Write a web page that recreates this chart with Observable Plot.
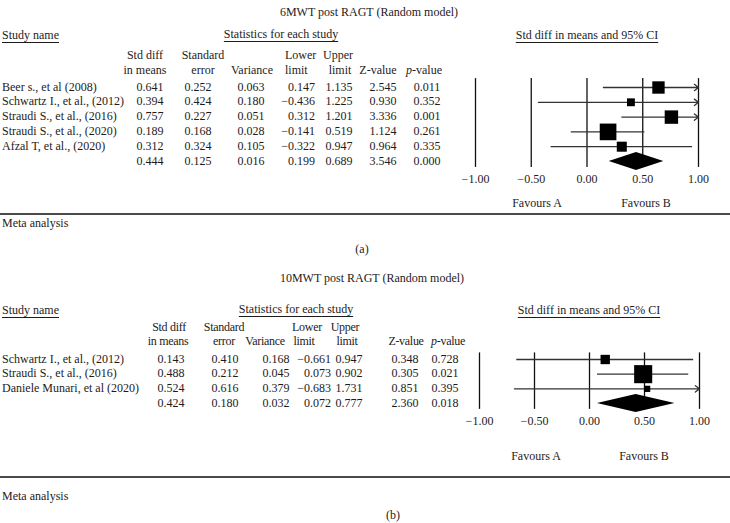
<!DOCTYPE html>
<html><head><meta charset="utf-8">
<script src="https://cdn.jsdelivr.net/npm/d3@7"></script>
<script src="https://cdn.jsdelivr.net/npm/@observablehq/plot@0.6"></script>
<style>
body{margin:0;background:#fff;}
#fig{position:relative;width:730px;height:523px;font-family:"Liberation Serif","Times New Roman",serif;font-size:12px;color:#1e1b1c;overflow:hidden;background:#fff}
.t{position:absolute;white-space:nowrap;line-height:1}
.ul{text-decoration:underline;text-decoration-thickness:1px;text-underline-offset:3px}
.hr{position:absolute;left:0;width:730px;height:2px;background:#4a4a4a}
.pl{position:absolute}
.tight{letter-spacing:-0.3px}
</style></head>
<body><div id="fig"></div>
<script>
// ---------- Data: panel (a) 6MWT ----------
const titleA = "6MWT post RAGT (Random model)";
const studiesA = ["Beer s., et al (2008)", "Schwartz I., et al., (2012)", "Straudi S., et al., (2016)", "Straudi S., et al., (2020)", "Afzal T, et al., (2020)"];
const smdA   = [0.641, 0.394, 0.757, 0.189, 0.312, 0.444];
const seA    = [0.252, 0.424, 0.227, 0.168, 0.324, 0.125];
const varA   = [0.063, 0.180, 0.051, 0.028, 0.105, 0.016];
const lowerA = [0.147, -0.436, 0.312, -0.141, -0.322, 0.199];
const upperA = [1.135, 1.225, 1.201, 0.519, 0.947, 0.689];
const zA     = [2.545, 0.930, 3.336, 1.124, 0.964, 3.546];
const pA     = [0.011, 0.352, 0.001, 0.261, 0.335, 0.000];
const weightA = [19.8, 8.0, 23.3, 35.9, 13.0]; // relative weight (%)

// ---------- Data: panel (b) 10MWT ----------
const titleB = "10MWT post RAGT (Random model)";
const studiesB = ["Schwartz I., et al., (2012)", "Straudi S., et al., (2016)", "Daniele Munari, et al (2020)"];
const smdB   = [0.143, 0.488, 0.524, 0.424];
const seB    = [0.410, 0.212, 0.616, 0.180];
const varB   = [0.168, 0.045, 0.379, 0.032];
const lowerB = [-0.661, 0.073, -0.683, 0.072];
const upperB = [0.947, 0.902, 1.731, 0.777];
const zB     = [0.348, 0.305, 0.851, 2.360];
const pB     = [0.728, 0.021, 0.395, 0.018];
const weightB = [19.3, 72.2, 8.6];

// ---------- Axis ----------
const tickVals = [-1, -0.5, 0, 0.5, 1];
const axisLabel = "Std diff in means and 95% CI";
const favours = ["Favours A", "Favours B"];
const colHeads = [["Std diff", "in means"], ["Standard", "error"], ["", "Variance"], ["Lower", "limit"], ["Upper", "limit"], ["", "Z-value"], ["", "<i>p</i>-value"]];

const fig = document.getElementById("fig");
const f3 = d3.format(".3f");

function T(x, y, html, anchor = "start", cls = "") {
  const el = document.createElement("div");
  el.className = "t " + cls;
  el.innerHTML = html;
  el.style.left = x + "px";
  el.style.top = y + "px";
  const tx = anchor === "middle" ? "-50%" : anchor === "end" ? "-100%" : "0";
  el.style.transform = `translate(${tx},-50%)`;
  fig.appendChild(el);
  return el;
}
function HR(y) {
  const el = document.createElement("div");
  el.className = "hr";
  el.style.top = (y - 1) + "px";
  fig.appendChild(el);
}

function forest(P) {
  const n = P.studies.length;
  const xMin = tickVals[0], xMax = tickVals[tickVals.length - 1];
  const data = P.studies.map((s, i) => ({est: P.smd[i], lower: P.lower[i], upper: P.upper[i], row: i, w: P.weight[i]}));
  const inside = data.filter(d => d.upper <= xMax);
  const clipped = data.filter(d => d.upper > xMax);
  const dia = [
    {y: n - P.dh, x1: P.smd[n], x2: P.smd[n]},
    {y: n, x1: P.lower[n], x2: P.upper[n]},
    {y: n + P.dh, x1: P.smd[n], x2: P.smd[n]}
  ];
  return Plot.plot({
    width: 275, height: P.height,
    marginLeft: P.ml, marginRight: P.mr, marginTop: P.mt, marginBottom: P.mb,
    x: {domain: [xMin, xMax]},
    y: {domain: [0, n], reverse: true, axis: null},
    r: {domain: [0, d3.max(P.weight)], range: [0, P.rMax]},
    style: {fontFamily: '"Liberation Serif","Times New Roman",serif', fontSize: "12px", color: "#1e1b1c", background: "transparent", overflow: "visible"},
    marks: [
      Plot.ruleX(tickVals, {x: d => d, y1: -P.vTop, y2: n + P.vBot, stroke: "#111", strokeWidth: 1.3}),
      Plot.ruleY(inside, {y: "row", x1: "lower", x2: "upper", stroke: "#333", strokeWidth: 1.3}),
      Plot.arrow(clipped, {x1: "lower", x2: d => Math.min(d.upper, xMax), y1: "row", y2: "row", headLength: 6, headAngle: 75, stroke: "#333", strokeWidth: 1.3}),
      Plot.dot(data, {x: "est", y: "row", r: "w", symbol: "square", fill: "#000"}),
      Plot.areaX(dia, {y: "y", x1: "x1", x2: "x2", fill: "#000", curve: "linear"}),
      Plot.axisX(tickVals, {anchor: "bottom", tickSize: 0, tickPadding: 13, tickFormat: d3.format(".2f"), fill: "#1e1b1c"})
    ]
  });
}

function panel(P) {
  T(P.titleX, P.titleY, P.title, "middle");
  T(2, P.headY, "Study name", "start", "ul");
  T(P.statsX, P.headY - 1, "Statistics for each study", "middle", "ul");
  T(P.ciX, P.headY, axisLabel, "middle", "ul");
  colHeads.forEach((h, j) => {
    const c = P.cols[j];
    if (h[0]) T(c.h1, P.h1Y, h[0], c.ha1 || "middle", P.headCls || "");
    T(c.h2, P.h2Y, h[1], c.ha2 || "middle", P.headCls || "");
  });
  const cols = [P.smd, P.se, P.vari, P.lower, P.upper, P.z, P.p];
  for (let i = 0; i <= P.studies.length; i++) {
    const y = P.rowY0 + i * P.rowH;
    if (i < P.studies.length) T(2, y, P.studies[i]);
    cols.forEach((arr, j) => {
      const c = P.cols[j];
      T(c.v, y, f3(arr[i]), c.va || "middle");
    });
  }
  const holder = document.createElement("div");
  holder.className = "pl";
  holder.style.left = "455px";
  holder.style.top = (P.rowY0 - P.mt) + "px";
  holder.appendChild(forest(P));
  fig.appendChild(holder);
  T(P.favA, P.favY, favours[0], "middle");
  T(P.favB, P.favY, favours[1], "middle");
  HR(P.hrY);
  T(2, P.metaY, "Meta analysis");
  T(P.labX, P.labY, P.label, "middle");
}

panel({
  title: titleA, studies: studiesA, smd: smdA, se: seA, vari: varA, lower: lowerA, upper: upperA, z: zA, p: pA, weight: weightA,
  titleX: 369, titleY: 12, headY: 35, statsX: 281, ciX: 587, h1Y: 55, h2Y: 70,
  rowY0: 86.5, rowH: 14.9,
  cols: [
    {h1: 145, h2: 145, v: 150},
    {h1: 203, h2: 203, v: 198},
    {h1: 252, h2: 252, v: 251},
    {h1: 285, h2: 285, ha1: "start", ha2: "start", v: 315, va: "end"},
    {h1: 338, h2: 340, v: 339},
    {h1: 378, h2: 378, v: 383},
    {h1: 424, h2: 424, v: 427}
  ],
  height: 121, ml: 20, mr: 32, mt: 17, mb: 30, rMax: 9.4, dh: 0.6, vTop: 0.6, vBot: 0.4,
  favA: 537, favB: 646, favY: 203, hrY: 214, metaY: 223, labX: 362, labY: 249, label: "(a)"
});

panel({
  title: titleB, studies: studiesB, smd: smdB, se: seB, vari: varB, lower: lowerB, upper: upperB, z: zB, p: pB, weight: weightB,
  titleX: 372, titleY: 278, headY: 310, statsX: 296, ciX: 589, h1Y: 327, h2Y: 341, headCls: "tight",
  rowY0: 358.5, rowH: 14.8,
  cols: [
    {h1: 169, h2: 168, v: 171},
    {h1: 224, h2: 224, v: 225},
    {h1: 266, h2: 265, v: 276},
    {h1: 307, h2: 304, v: 331, va: "end"},
    {h1: 345, h2: 347, v: 349},
    {h1: 406, h2: 406, v: 405},
    {h1: 448, h2: 448, v: 445}
  ],
  height: 93, ml: 24, mr: 31, mt: 19, mb: 30, rMax: 10.2, dh: 0.62, vTop: 0.45, vBot: 0.4,
  favA: 536, favB: 644, favY: 456, hrY: 477, metaY: 496, labX: 393, labY: 515, label: "(b)"
});
</script>
</body></html>
